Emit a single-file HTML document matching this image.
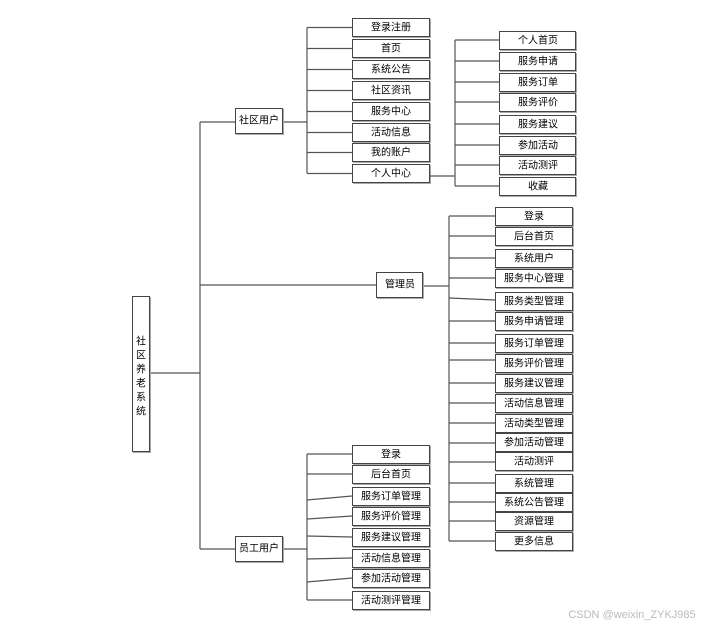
<!DOCTYPE html>
<html><head><meta charset="utf-8"><style>
html,body{margin:0;padding:0;background:#fff;}
svg{display:block;}
text{font-family:"Liberation Sans","Noto Sans CJK SC",sans-serif;font-size:10px;fill:#000;text-anchor:middle;dominant-baseline:central;}
.b{fill:#fff;stroke:#444;stroke-width:1;}
.s{fill:#aaa;}
line{stroke:#555;stroke-width:1.2;}
</style></head><body>
<svg width="720" height="627" viewBox="0 0 720 627" xmlns="http://www.w3.org/2000/svg">
<!-- trunk -->
<line x1="150" y1="373" x2="200" y2="373"/>
<line x1="200" y1="122" x2="200" y2="549"/>
<line x1="200" y1="122" x2="235" y2="122"/>
<line x1="200" y1="285" x2="376" y2="285"/>
<line x1="200" y1="549" x2="235" y2="549"/>
<line x1="283" y1="122" x2="307" y2="122"/>
<line x1="423" y1="286" x2="449" y2="286"/>
<line x1="283" y1="549" x2="307" y2="549"/>
<!-- root -->
<rect class="s" x="133" y="297" width="18" height="156"/>
<rect class="b" x="132.5" y="296.5" width="17" height="155"/>
<text x="141" y="342">社</text><text x="141" y="356">区</text><text x="141" y="370">养</text><text x="141" y="384">老</text><text x="141" y="398">系</text><text x="141" y="412">统</text>
<!-- level1 -->
<rect class="s" x="236" y="109" width="48" height="26"/><rect class="b" x="235.5" y="108.5" width="47" height="25"/><text x="259" y="121">社区用户</text>
<rect class="s" x="377" y="273" width="47" height="26"/><rect class="b" x="376.5" y="272.5" width="46" height="25"/><text x="400" y="285">管理员</text>
<rect class="s" x="236" y="537" width="48" height="26"/><rect class="b" x="235.5" y="536.5" width="47" height="25"/><text x="259" y="549">员工用户</text>
<!-- group A -->
<line x1="307" y1="27.5" x2="307" y2="173.5"/>
<g>
<line x1="307" y1="27.5" x2="352" y2="27.5"/><line x1="307" y1="48.5" x2="352" y2="48.5"/><line x1="307" y1="69.5" x2="352" y2="69.5"/><line x1="307" y1="90.5" x2="352" y2="90.5"/><line x1="307" y1="111.5" x2="352" y2="111.5"/><line x1="307" y1="132.5" x2="352" y2="132.5"/><line x1="307" y1="152.5" x2="352" y2="152.5"/><line x1="307" y1="173.5" x2="352" y2="173.5"/>
</g>
<g>
<rect class="s" x="353" y="19" width="78" height="19"/><rect class="b" x="352.5" y="18.5" width="77" height="18"/><text x="391" y="28">登录注册</text>
<rect class="s" x="353" y="40" width="78" height="19"/><rect class="b" x="352.5" y="39.5" width="77" height="18"/><text x="391" y="49">首页</text>
<rect class="s" x="353" y="61" width="78" height="19"/><rect class="b" x="352.5" y="60.5" width="77" height="18"/><text x="391" y="70">系统公告</text>
<rect class="s" x="353" y="82" width="78" height="19"/><rect class="b" x="352.5" y="81.5" width="77" height="18"/><text x="391" y="91">社区资讯</text>
<rect class="s" x="353" y="103" width="78" height="19"/><rect class="b" x="352.5" y="102.5" width="77" height="18"/><text x="391" y="112">服务中心</text>
<rect class="s" x="353" y="124" width="78" height="19"/><rect class="b" x="352.5" y="123.5" width="77" height="18"/><text x="391" y="133">活动信息</text>
<rect class="s" x="353" y="144" width="78" height="19"/><rect class="b" x="352.5" y="143.5" width="77" height="18"/><text x="391" y="153">我的账户</text>
<rect class="s" x="353" y="165" width="78" height="19"/><rect class="b" x="352.5" y="164.5" width="77" height="18"/><text x="391" y="174">个人中心</text>
</g>
<!-- group B -->
<line x1="430" y1="176" x2="455" y2="176"/>
<line x1="455" y1="40" x2="455" y2="186"/>
<line x1="455" y1="40" x2="499" y2="40"/><line x1="455" y1="61" x2="499" y2="61"/><line x1="455" y1="82" x2="499" y2="82"/><line x1="455" y1="102" x2="499" y2="102"/><line x1="455" y1="124" x2="499" y2="124"/><line x1="455" y1="145" x2="499" y2="145"/><line x1="455" y1="165" x2="499" y2="165"/><line x1="455" y1="186" x2="499" y2="186"/>
<rect class="s" x="500" y="32" width="77" height="19"/><rect class="b" x="499.5" y="31.5" width="76" height="18"/><text x="538" y="41">个人首页</text>
<rect class="s" x="500" y="53" width="77" height="19"/><rect class="b" x="499.5" y="52.5" width="76" height="18"/><text x="538" y="62">服务申请</text>
<rect class="s" x="500" y="74" width="77" height="19"/><rect class="b" x="499.5" y="73.5" width="76" height="18"/><text x="538" y="83">服务订单</text>
<rect class="s" x="500" y="94" width="77" height="19"/><rect class="b" x="499.5" y="93.5" width="76" height="18"/><text x="538" y="103">服务评价</text>
<rect class="s" x="500" y="116" width="77" height="19"/><rect class="b" x="499.5" y="115.5" width="76" height="18"/><text x="538" y="125">服务建议</text>
<rect class="s" x="500" y="137" width="77" height="19"/><rect class="b" x="499.5" y="136.5" width="76" height="18"/><text x="538" y="146">参加活动</text>
<rect class="s" x="500" y="157" width="77" height="19"/><rect class="b" x="499.5" y="156.5" width="76" height="18"/><text x="538" y="166">活动测评</text>
<rect class="s" x="500" y="178" width="77" height="19"/><rect class="b" x="499.5" y="177.5" width="76" height="18"/><text x="538" y="187">收藏</text>
<!-- group C -->
<line x1="449" y1="216" x2="449" y2="541"/>
<line x1="449" y1="216" x2="495" y2="216"/><line x1="449" y1="236" x2="495" y2="236"/><line x1="449" y1="258" x2="495" y2="258"/><line x1="449" y1="278" x2="495" y2="278"/><line x1="449" y1="298" x2="495" y2="300"/><line x1="449" y1="321" x2="495" y2="321"/><line x1="449" y1="343" x2="495" y2="343"/><line x1="449" y1="360" x2="495" y2="360"/><line x1="449" y1="383" x2="495" y2="383"/><line x1="449" y1="403" x2="495" y2="403"/><line x1="449" y1="423" x2="495" y2="423"/><line x1="449" y1="443" x2="495" y2="443"/><line x1="449" y1="462" x2="495" y2="462"/><line x1="449" y1="483" x2="495" y2="483"/><line x1="449" y1="502" x2="495" y2="502"/><line x1="449" y1="521" x2="495" y2="521"/><line x1="449" y1="541" x2="495" y2="541"/>
<g>
<rect class="s" x="496" y="208" width="78" height="19"/><rect class="b" x="495.5" y="207.5" width="77" height="18"/><text x="534" y="217">登录</text>
<rect class="s" x="496" y="228" width="78" height="19"/><rect class="b" x="495.5" y="227.5" width="77" height="18"/><text x="534" y="237">后台首页</text>
<rect class="s" x="496" y="250" width="78" height="19"/><rect class="b" x="495.5" y="249.5" width="77" height="18"/><text x="534" y="259">系统用户</text>
<rect class="s" x="496" y="270" width="78" height="19"/><rect class="b" x="495.5" y="269.5" width="77" height="18"/><text x="534" y="279">服务中心管理</text>
<rect class="s" x="496" y="293" width="78" height="19"/><rect class="b" x="495.5" y="292.5" width="77" height="18"/><text x="534" y="302">服务类型管理</text>
<rect class="s" x="496" y="313" width="78" height="19"/><rect class="b" x="495.5" y="312.5" width="77" height="18"/><text x="534" y="322">服务申请管理</text>
<rect class="s" x="496" y="335" width="78" height="19"/><rect class="b" x="495.5" y="334.5" width="77" height="18"/><text x="534" y="344">服务订单管理</text>
<rect class="s" x="496" y="355" width="78" height="19"/><rect class="b" x="495.5" y="354.5" width="77" height="18"/><text x="534" y="364">服务评价管理</text>
<rect class="s" x="496" y="375" width="78" height="19"/><rect class="b" x="495.5" y="374.5" width="77" height="18"/><text x="534" y="384">服务建议管理</text>
<rect class="s" x="496" y="395" width="78" height="19"/><rect class="b" x="495.5" y="394.5" width="77" height="18"/><text x="534" y="404">活动信息管理</text>
<rect class="s" x="496" y="415" width="78" height="19"/><rect class="b" x="495.5" y="414.5" width="77" height="18"/><text x="534" y="424">活动类型管理</text>
<rect class="s" x="496" y="434" width="78" height="19"/><rect class="b" x="495.5" y="433.5" width="77" height="18"/><text x="534" y="443">参加活动管理</text>
<rect class="s" x="496" y="453" width="78" height="19"/><rect class="b" x="495.5" y="452.5" width="77" height="18"/><text x="534" y="462">活动测评</text>
<rect class="s" x="496" y="475" width="78" height="19"/><rect class="b" x="495.5" y="474.5" width="77" height="18"/><text x="534" y="484">系统管理</text>
<rect class="s" x="496" y="494" width="78" height="19"/><rect class="b" x="495.5" y="493.5" width="77" height="18"/><text x="534" y="503">系统公告管理</text>
<rect class="s" x="496" y="513" width="78" height="19"/><rect class="b" x="495.5" y="512.5" width="77" height="18"/><text x="534" y="522">资源管理</text>
<rect class="s" x="496" y="533" width="78" height="19"/><rect class="b" x="495.5" y="532.5" width="77" height="18"/><text x="534" y="542">更多信息</text>
</g>
<!-- group D -->
<line x1="307" y1="454" x2="307" y2="600"/>
<line x1="307" y1="454" x2="352" y2="454"/><line x1="307" y1="474" x2="352" y2="474"/><line x1="307" y1="500" x2="352" y2="496"/><line x1="307" y1="519" x2="352" y2="516"/><line x1="307" y1="536" x2="352" y2="537"/><line x1="307" y1="559" x2="352" y2="558"/><line x1="307" y1="582" x2="352" y2="578"/><line x1="307" y1="600" x2="352" y2="600"/>
<rect class="s" x="353" y="446" width="78" height="19"/><rect class="b" x="352.5" y="445.5" width="77" height="18"/><text x="391" y="455">登录</text>
<rect class="s" x="353" y="466" width="78" height="19"/><rect class="b" x="352.5" y="465.5" width="77" height="18"/><text x="391" y="475">后台首页</text>
<rect class="s" x="353" y="488" width="78" height="19"/><rect class="b" x="352.5" y="487.5" width="77" height="18"/><text x="391" y="497">服务订单管理</text>
<rect class="s" x="353" y="508" width="78" height="19"/><rect class="b" x="352.5" y="507.5" width="77" height="18"/><text x="391" y="517">服务评价管理</text>
<rect class="s" x="353" y="529" width="78" height="19"/><rect class="b" x="352.5" y="528.5" width="77" height="18"/><text x="391" y="538">服务建议管理</text>
<rect class="s" x="353" y="550" width="78" height="19"/><rect class="b" x="352.5" y="549.5" width="77" height="18"/><text x="391" y="559">活动信息管理</text>
<rect class="s" x="353" y="570" width="78" height="19"/><rect class="b" x="352.5" y="569.5" width="77" height="18"/><text x="391" y="579">参加活动管理</text>
<rect class="s" x="353" y="592" width="78" height="19"/><rect class="b" x="352.5" y="591.5" width="77" height="18"/><text x="391" y="601">活动测评管理</text>
<!-- watermark -->
<text x="632" y="615" style="font-size:11px;fill:#bbb;">CSDN @weixin_ZYKJ985</text>
</svg>
</body></html>
